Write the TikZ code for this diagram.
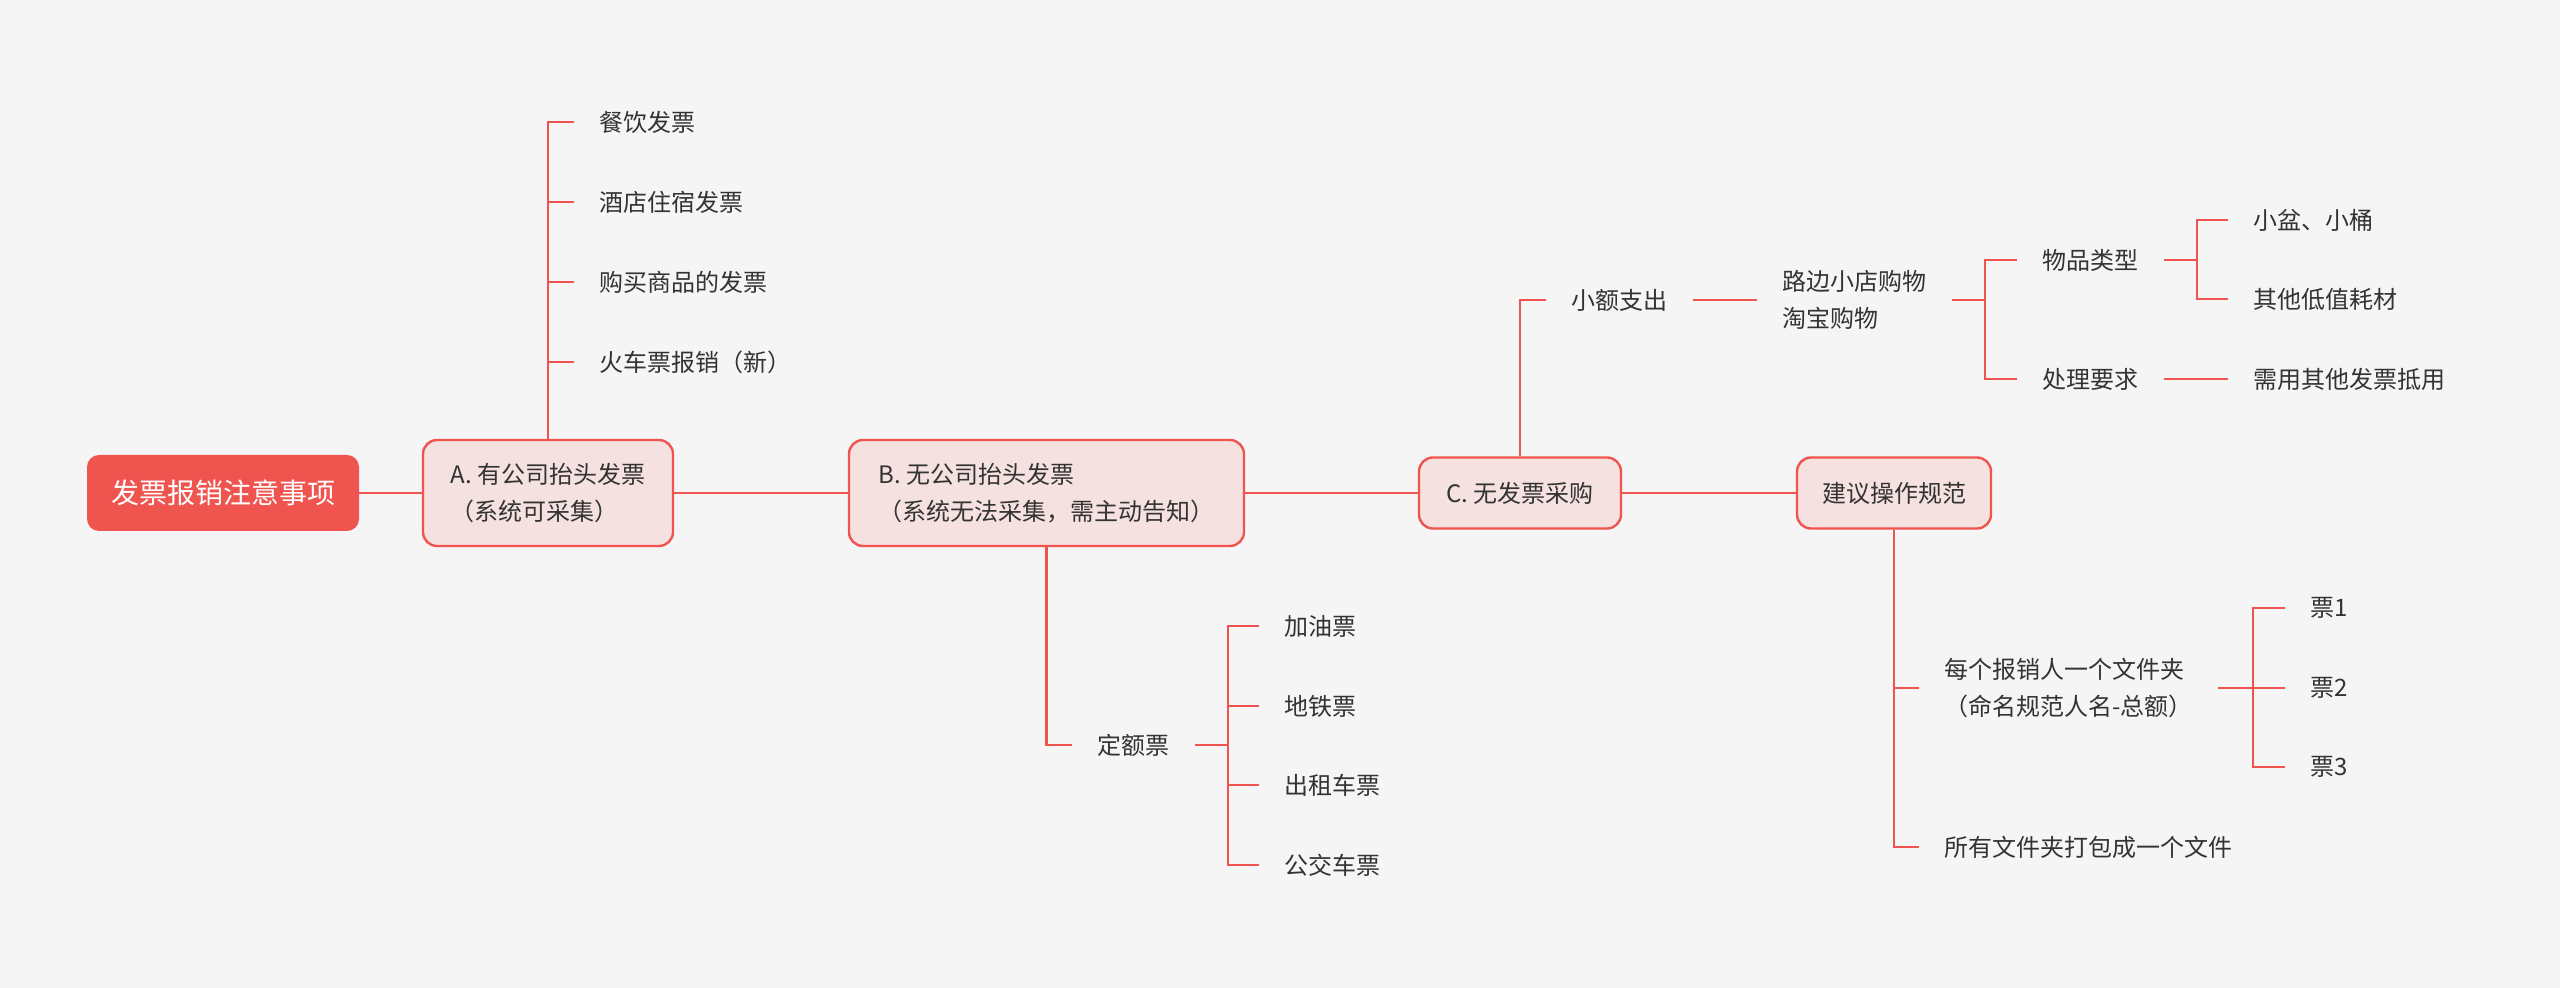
\documentclass[tikz,border=0pt]{standalone}
\usepackage{fontspec}
\setmainfont{Noto Sans CJK SC}
\definecolor{bg}{HTML}{F5F5F5}
\definecolor{rd}{HTML}{F0544F}
\definecolor{pk}{HTML}{F5E1E0}
\definecolor{tx}{HTML}{333333}
\begin{document}
\begin{tikzpicture}[x=0.5pt,y=-0.5pt,
  conn/.style={draw=rd, line width=1.3pt},
  rootbox/.style={fill=rd, rounded corners=6pt, text=white, font=\fontsize{14pt}{18pt}\selectfont, minimum width=136pt, minimum height=38pt, inner sep=0pt},
  mainbox/.style={fill=pk, draw=rd, line width=1.2pt, rounded corners=7pt, text=tx, font=\fontsize{12pt}{18.5pt}\selectfont, align=left, inner sep=0pt},
  leaf/.style={text=tx, font=\fontsize{12pt}{18.5pt}\selectfont, align=left, inner xsep=12.5pt, inner ysep=0pt, anchor=west},
]
\fill[bg] (0,0) rectangle (2560,988);
\useasboundingbox (0,0) rectangle (2560,988);

% main nodes
\node[rootbox] (root) at (223,493) {发票报销注意事项};
\node[mainbox, minimum width=125pt, minimum height=53pt] (A) at (548,493) {A. 有公司抬头发票\\（系统可采集）};
\node[mainbox, minimum width=197.5pt, minimum height=53pt] (B) at (1046.5,493) {B. 无公司抬头发票\\（系统无法采集，需主动告知）};
\node[mainbox, minimum width=101pt, minimum height=35.5pt] (C) at (1520,493) {C. 无发票采购};
\node[mainbox, minimum width=97pt, minimum height=35.5pt] (D) at (1894,493) {建议操作规范};

% A leaves
\node[leaf] (a1) at (574,122) {餐饮发票};
\node[leaf] (a2) at (574,202) {酒店住宿发票};
\node[leaf] (a3) at (574,282) {购买商品的发票};
\node[leaf] (a4) at (574,362) {火车票报销（新）};

% B leaves
\node[leaf] (fix) at (1072,745) {定额票};
\node[leaf] (b1) at (1259,626) {加油票};
\node[leaf] (b2) at (1259,706) {地铁票};
\node[leaf] (b3) at (1259,785) {出租车票};
\node[leaf] (b4) at (1259,865) {公交车票};
\coordinate (tB) at (1228,745);

% C leaves
\node[leaf] (c1) at (1546,300) {小额支出};
\node[leaf] (c2) at (1757,300) {路边小店购物\\淘宝购物};
\node[leaf] (c3) at (2017,260) {物品类型};
\node[leaf] (c4) at (2017,379) {处理要求};
\node[leaf] (c5) at (2228,220) {小盆、小桶};
\node[leaf] (c6) at (2228,299) {其他低值耗材};
\node[leaf] (c7) at (2228,379) {需用其他发票抵用};
\coordinate (tC) at (1985,300);
\coordinate (tC2) at (2197,260);

% D leaves
\node[leaf] (d1) at (1919,688) {每个报销人一个文件夹\\（命名规范人名-总额）};
\node[leaf] (d2) at (1919,847) {所有文件夹打包成一个文件};
\node[leaf] (d3) at (2285,608) {票1};
\node[leaf] (d4) at (2285,688) {票2};
\node[leaf] (d5) at (2285,767) {票3};
\coordinate (tD) at (2253,688);

% main connectors
\draw[conn] (root.east) -- (A.west);
\draw[conn] (A.east) -- (B.west);
\draw[conn] (B.east) -- (C.west);
\draw[conn] (C.east) -- (D.west);

% A branch
\draw[conn] (A.north) -- (A.north |- a1.west) -- (a1.west);
\draw[conn] (A.north |- a2.west) -- (a2.west);
\draw[conn] (A.north |- a3.west) -- (a3.west);
\draw[conn] (A.north |- a4.west) -- (a4.west);

% B branch
\draw[conn] (B.south) |- (fix.west);
\draw[conn] (fix.east) -- (tB);
\draw[conn] (b1.west) -| (tB) |- (b4.west);
\draw[conn] (tB |- b2.west) -- (b2.west);
\draw[conn] (tB |- b3.west) -- (b3.west);

% C branch
\draw[conn] (C.north) |- (c1.west);
\draw[conn] (c1.east) -- (c2.west);
\draw[conn] (c2.east) -- (tC);
\draw[conn] (c3.west) -| (tC) |- (c4.west);
\draw[conn] (c3.east) -- (tC2);
\draw[conn] (c5.west) -| (tC2) |- (c6.west);
\draw[conn] (c4.east) -- (c7.west);

% D branch
\draw[conn] (D.south) |- (d2.west);
\draw[conn] (D.south |- d1.west) -- (d1.west);
\draw[conn] (d1.east) -- (tD);
\draw[conn] (d3.west) -| (tD) |- (d5.west);
\draw[conn] (tD) -- (d4.west);
\end{tikzpicture}
\end{document}
